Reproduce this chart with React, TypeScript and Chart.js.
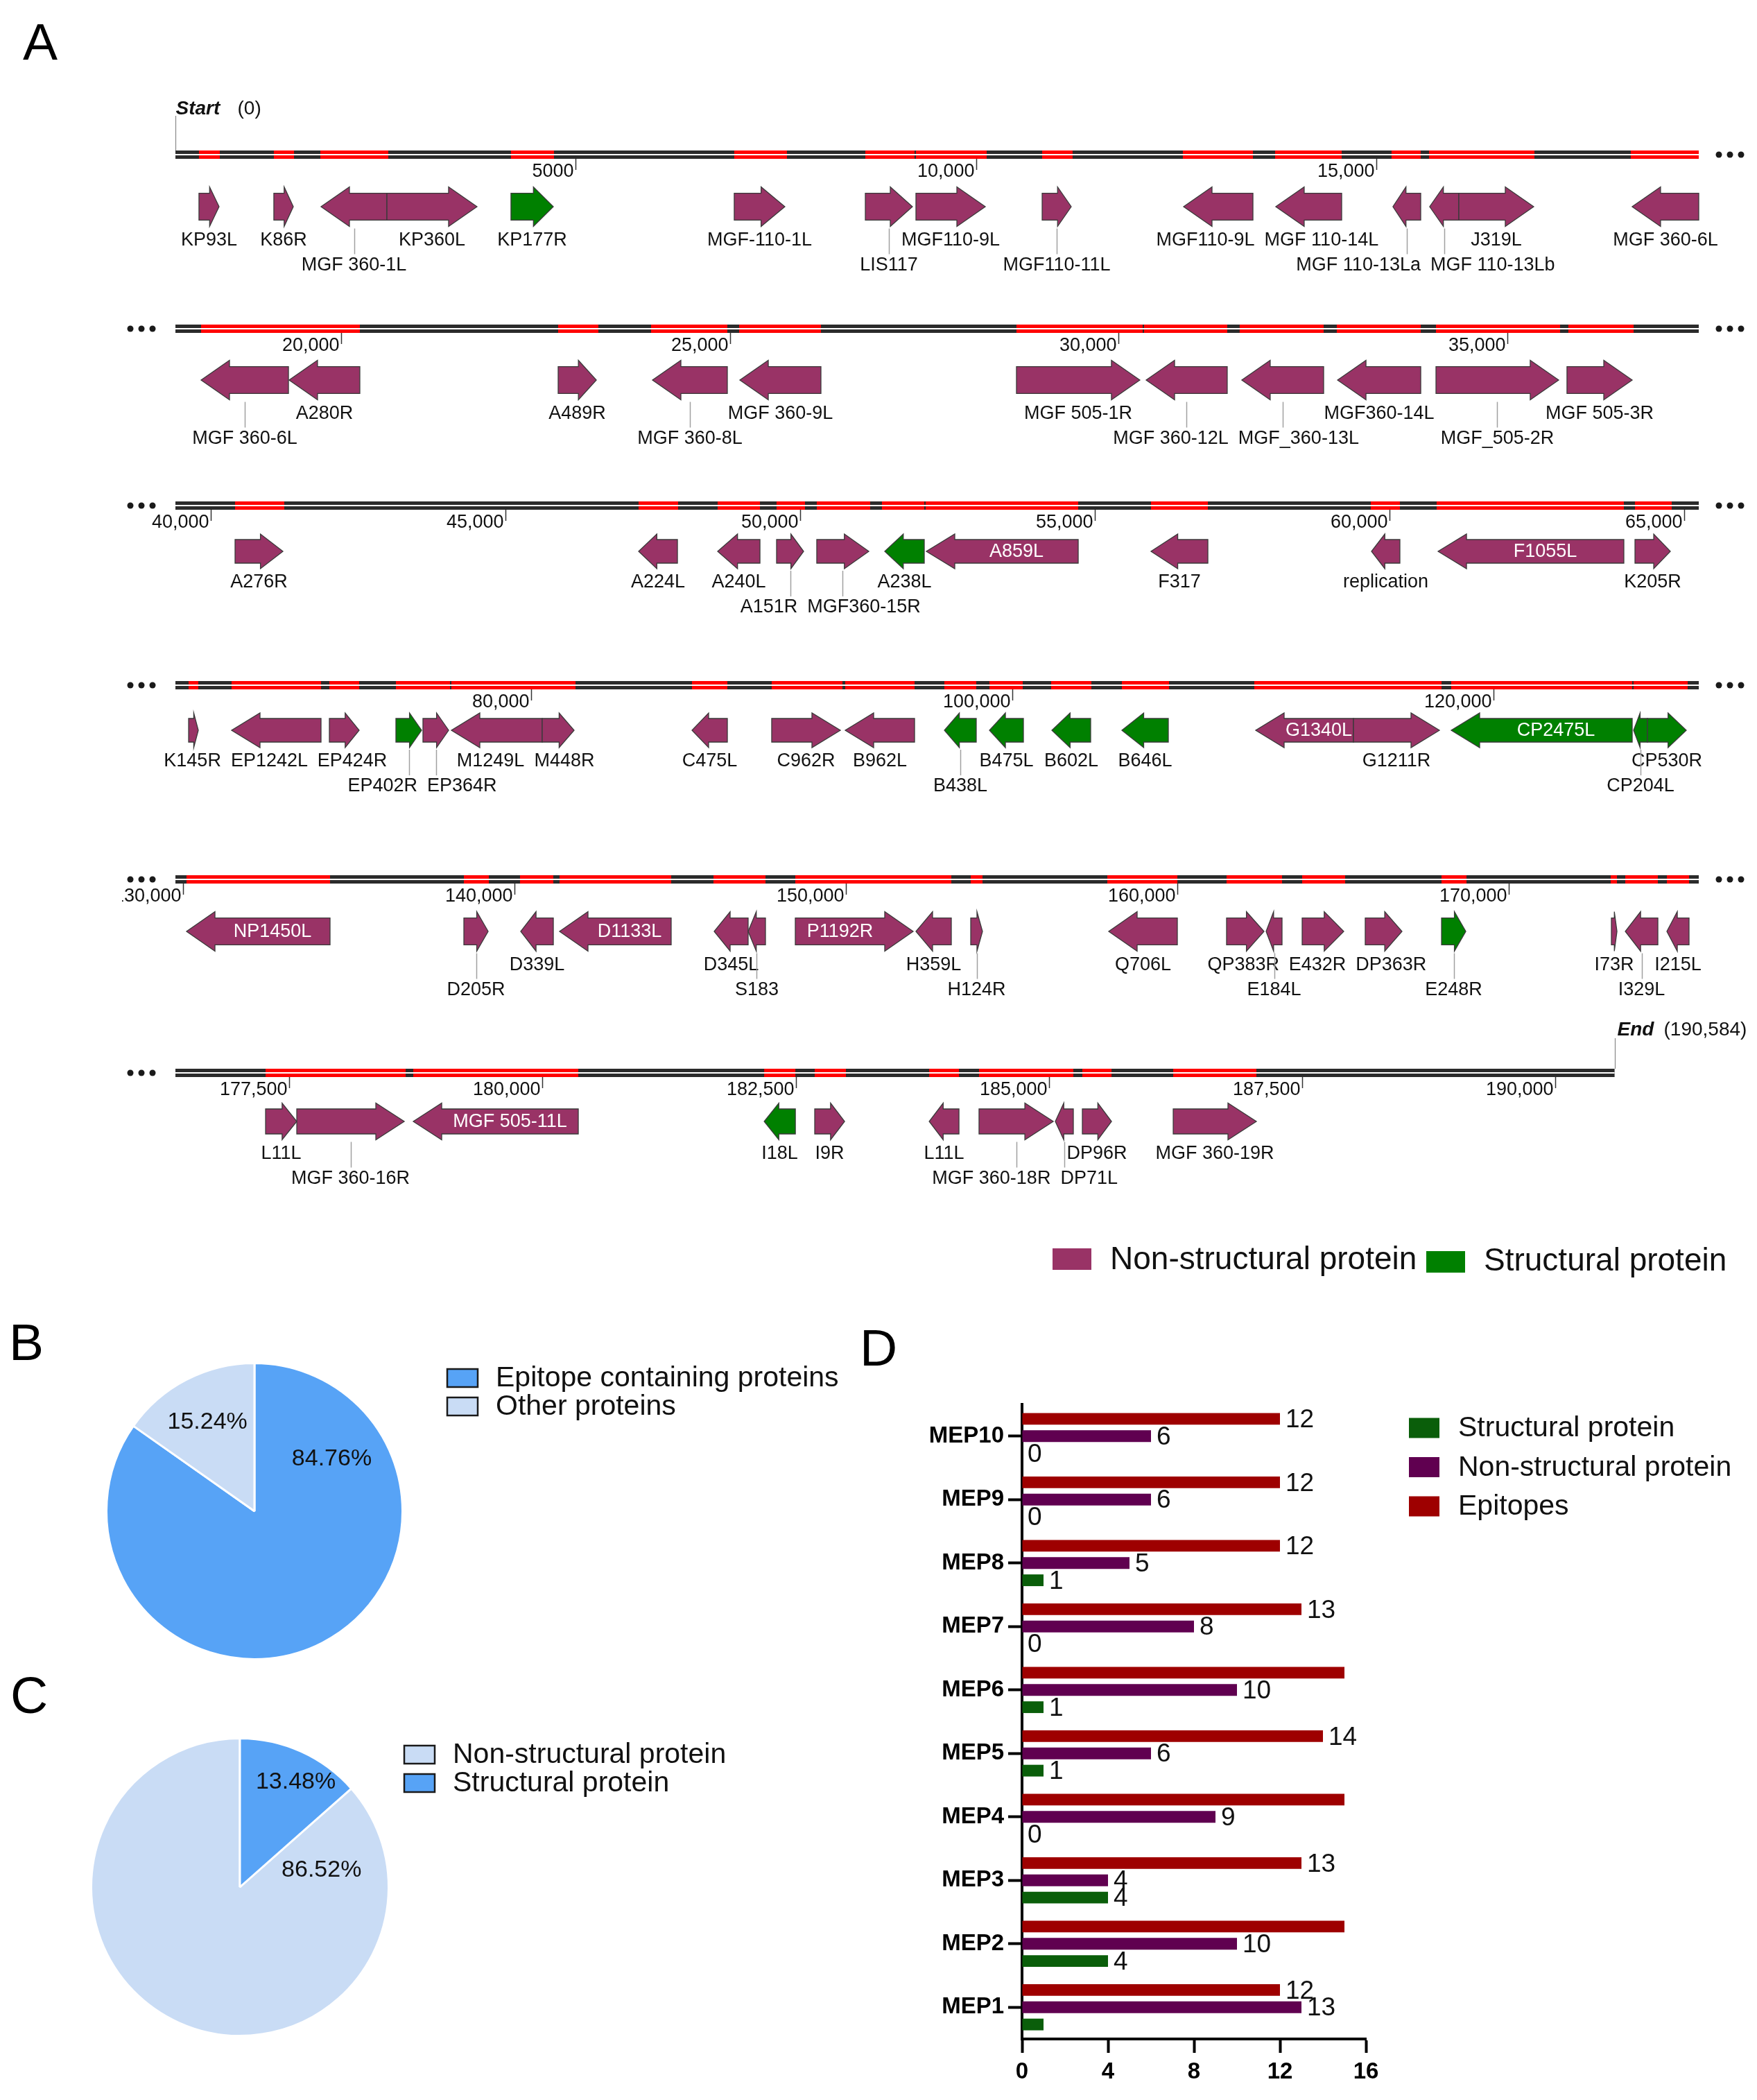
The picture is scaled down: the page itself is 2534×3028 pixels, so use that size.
import React, { useEffect, useRef } from "react";
import { Chart, registerables } from "chart.js";

Chart.register(...registerables);

const FONT = "'Liberation Sans', Arial, Helvetica, sans-serif";

// ================= Panel A : genome map data =================
const genomeLength = 190584;

const row1Range = [0, 19022];
const row2Range = [17869, 37463];
const row3Range = [39400, 65247];
const row4Range = [65216, 128530];
const row5Range = [129770, 175732];
const row6Range = [176377, 191415];

const row1TickValues = [5000, 10000, 15000];
const row1TickLabels = ["5000", "10,000", "15,000"];
const row2TickValues = [20000, 25000, 30000, 35000];
const row2TickLabels = ["20,000", "25,000", "30,000", "35,000"];
const row3TickValues = [40000, 45000, 50000, 55000, 60000, 65000];
const row3TickLabels = ["40,000", "45,000", "50,000", "55,000", "60,000", "65,000"];
const row4TickValues = [80000, 100000, 120000];
const row4TickLabels = ["80,000", "100,000", "120,000"];
const row5TickValues = [130000, 140000, 150000, 160000, 170000];
const row5TickLabels = ["130,000", "140,000", "150,000", "160,000", "170,000"];
const row6TickValues = [177500, 180000, 182500, 185000, 187500, 190000];
const row6TickLabels = ["177,500", "180,000", "182,500", "185,000", "187,500", "190,000"];

// gene: [name, start, end, strand (1 = forward, -1 = reverse), type (N = non-structural, S = structural), label lane (0 inside, 1 first line, 2 second line)]
const row1Genes: any[] = [
  ["KP93L", 294, 545, 1, "N", 1],
  ["K86R", 1229, 1472, 1, "N", 1],
  ["MGF 360-1L", 1818, 2641, -1, "N", 2],
  ["KP360L", 2641, 3766, 1, "N", 1],
  ["KP177R", 4190, 4719, 1, "S", 1],
  ["MGF-110-1L", 6978, 7610, 1, "N", 1],
  ["LIS117", 8615, 9203, 1, "N", 2],
  ["MGF110-9L", 9247, 10113, 1, "N", 1],
  ["MGF110-11L", 10823, 11186, 1, "N", 2],
  ["MGF110-9L", 12589, 13455, -1, "N", 1],
  ["MGF 110-14L", 13740, 14563, -1, "N", 1],
  ["MGF 110-13La", 15203, 15550, -1, "N", 2],
  ["MGF 110-13Lb", 15662, 16026, -1, "N", 2],
  ["J319L", 16026, 16961, 1, "N", 1],
  ["MGF 360-6L", 18190, 19323, -1, "N", 1],
];
const row2Genes: any[] = [
  ["MGF 360-6L", 18199, 19323, -1, "N", 2],
  ["A280R", 19331, 20241, -1, "N", 1],
  ["A489R", 22792, 23283, 1, "N", 1],
  ["MGF 360-8L", 24005, 24968, -1, "N", 2],
  ["MGF 360-9L", 25129, 26172, -1, "N", 1],
  ["MGF 505-1R", 28687, 30274, 1, "N", 1],
  ["MGF 360-12L", 30355, 31398, -1, "N", 2],
  ["MGF_360-13L", 31585, 32638, -1, "N", 2],
  ["MGF360-14L", 32817, 33887, -1, "N", 1],
  ["MGF_505-2R", 34083, 35661, 1, "N", 2],
  ["MGF 505-3R", 35768, 36607, 1, "N", 1],
];
const row3Genes: any[] = [
  ["A276R", 40412, 41224, 1, "N", 1],
  ["A224L", 47259, 47918, -1, "N", 1],
  ["A240L", 48600, 49318, -1, "N", 1],
  ["A151R", 49600, 50059, 1, "N", 2],
  ["MGF360-15R", 50282, 51165, 1, "N", 2],
  ["A238L", 51435, 52106, -1, "S", 1],
  ["A859L", 52141, 54718, -1, "N", 0],
  ["F317", 55953, 56918, -1, "N", 1],
  ["replication", 59694, 60176, -1, "N", 1],
  ["F1055L", 60824, 63976, -1, "N", 0],
  ["K205R", 64165, 64765, 1, "N", 1],
];
const row4Genes: any[] = [
  ["K145R", 65764, 66167, 1, "N", 1],
  ["EP1242L", 67550, 71268, -1, "N", 1],
  ["EP424R", 71614, 72853, 1, "N", 1],
  ["EP402R", 74380, 75447, 1, "S", 2],
  ["EP364R", 75504, 76571, 1, "N", 2],
  ["M1249L", 76686, 80461, -1, "N", 1],
  ["M448R", 80461, 81787, 1, "N", 1],
  ["C475L", 86686, 88156, -1, "N", 1],
  ["C962R", 89999, 92853, 1, "N", 1],
  ["B962L", 93055, 95937, -1, "N", 1],
  ["B438L", 97176, 98501, -1, "S", 2],
  ["B475L", 99049, 100461, -1, "S", 1],
  ["B602L", 101643, 103256, -1, "S", 1],
  ["B646L", 104553, 106484, -1, "S", 1],
  ["G1340L", 110115, 114179, -1, "N", 0],
  ["G1211R", 114179, 117752, 1, "N", 1],
  ["CP2475L", 118242, 125764, -1, "S", 0],
  ["CP204L", 125821, 126398, -1, "S", 2],
  ["CP530R", 126398, 128012, 1, "S", 1],
];
const row5Genes: any[] = [
  ["NP1450L", 130105, 134435, -1, "N", 0],
  ["D205R", 138473, 139205, 1, "N", 2],
  ["D339L", 140188, 141172, -1, "N", 1],
  ["D1133L", 141360, 144728, -1, "N", 0],
  ["D345L", 146025, 147050, -1, "N", 1],
  ["S183", 147050, 147573, -1, "N", 2],
  ["P1192R", 148473, 152029, 1, "N", 0],
  ["H359L", 152113, 153180, -1, "N", 1],
  ["H124R", 153766, 154121, 1, "N", 2],
  ["Q706L", 157929, 160000, -1, "N", 1],
  ["QP383R", 161485, 162615, 1, "N", 1],
  ["E184L", 162678, 163159, -1, "N", 2],
  ["E432R", 163766, 165021, 1, "N", 1],
  ["DP363R", 165669, 166778, 1, "N", 1],
  ["E248R", 167971, 168703, 1, "S", 2],
  ["I73R", 173096, 173264, 1, "N", 1],
  ["I329L", 173515, 174498, -1, "N", 2],
  ["I215L", 174770, 175439, -1, "N", 1],
];
const row6Genes: any[] = [
  ["L11L", 177267, 177575, 1, "N", 1],
  ["MGF 360-16R", 177575, 178636, 1, "N", 2],
  ["MGF 505-11L", 178725, 180354, -1, "N", 0],
  ["I18L", 182189, 182497, -1, "S", 1],
  ["I9R", 182688, 182983, 1, "N", 1],
  ["L11L", 183818, 184112, -1, "N", 1],
  ["MGF 360-18R", 184310, 185043, 1, "N", 2],
  ["DP71L", 185063, 185241, -1, "N", 2],
  ["DP96R", 185330, 185618, 1, "N", 1],
  ["MGF 360-19R", 186227, 187048, 1, "N", 1],
];

// highlighted (red) segments of the sequence track
const row1Red = [[294, 554], [1229, 1481], [1810, 2658], [4190, 4727], [6978, 7636], [8615, 9229], [9247, 10130], [10823, 11203], [12580, 13455], [13732, 14563], [15186, 15550], [15654, 16970], [18173, 19040]];
const row2Red = [[18199, 20241], [22792, 23309], [23987, 24968], [25120, 26172], [28687, 30310], [30328, 31398], [31558, 32638], [32807, 33887], [34083, 35679], [35786, 36625]];
const row3Red = [[40412, 41247], [47259, 47929], [48600, 49318], [49600, 50082], [50282, 51188], [51388, 52106], [52129, 54718], [55953, 56918], [59682, 60176], [60800, 63976], [64165, 64788]];
const row4Red = [[65764, 66167], [67550, 71268], [71614, 72853], [74380, 76628], [76686, 81844], [86686, 88156], [89999, 92939], [93055, 95937], [97176, 98501], [99049, 100432], [101614, 103285], [104553, 106513], [110058, 117839], [118242, 125764], [125821, 128069]];
const row5Red = [[130105, 134435], [138473, 139226], [140167, 141172], [141360, 144728], [146004, 147573], [148473, 153180], [153766, 154121], [157887, 160000], [161485, 163159], [163766, 165063], [167971, 168724], [173075, 173264], [173515, 174498], [174770, 175439]];
const row6Red = [[177267, 178650], [178725, 180354], [182189, 182497], [182688, 182996], [183818, 184112], [184310, 185241], [185330, 185618], [186227, 187048]];

const mapLegendLabels = ["Non-structural protein", "Structural protein"];

const GENOME_ROWS = [
  { range: row1Range, genes: row1Genes, red: row1Red, ticks: row1TickValues, tickLabels: row1TickLabels },
  { range: row2Range, genes: row2Genes, red: row2Red, ticks: row2TickValues, tickLabels: row2TickLabels },
  { range: row3Range, genes: row3Genes, red: row3Red, ticks: row3TickValues, tickLabels: row3TickLabels },
  { range: row4Range, genes: row4Genes, red: row4Red, ticks: row4TickValues, tickLabels: row4TickLabels },
  { range: row5Range, genes: row5Genes, red: row5Red, ticks: row5TickValues, tickLabels: row5TickLabels },
  { range: row6Range, genes: row6Genes, red: row6Red, ticks: row6TickValues, tickLabels: row6TickLabels },
];

// ================= Panel B / C : pies =================
const pieBLabels = ["Epitope containing proteins", "Other proteins"];
const pieBValues = [84.76, 15.24];
const pieCLabels = ["Non-structural protein", "Structural protein"];
const pieCValues = [86.52, 13.48];

// ================= Panel D : bars =================
const mepCategories = ["MEP10", "MEP9", "MEP8", "MEP7", "MEP6", "MEP5", "MEP4", "MEP3", "MEP2", "MEP1"];
const epitopeCounts = [12, 12, 12, 13, 15, 14, 15, 13, 15, 12];
const nonStructuralCounts = [6, 6, 5, 8, 10, 6, 9, 4, 10, 13];
const structuralCounts = [0, 0, 1, 0, 1, 1, 0, 4, 4, 1];
const epitopeValueLabels = ["12", "12", "12", "13", null, "14", null, "13", null, "12"];
const nonStructuralValueLabels = ["6", "6", "5", "8", "10", "6", "9", "4", "10", "13"];
const structuralValueLabels = ["0", "0", "1", "0", "1", "1", "0", "4", "4", null];
const xTickStep = 4;
const xMax = 16;

// ================= styles / layout =================
const NONSTRUCT_COLOR = "#993366";
const STRUCT_COLOR = "#008000";
const BLUE = "#57A3F6";
const LIGHT_BLUE = "#C9DCF5";
const EPI_RED = "#9E0000";
const NS_PURPLE = "#600050";
const S_GREEN = "#0A5E0A";

const TRACK_Y = [223, 474, 729, 988, 1268, 1547];
const ARROW_Y = [298, 548, 795, 1053, 1343, 1617];
const ARROW_H = [57, 57, 50, 50, 57, 53];

function spreadLabels(items: any[], gap: number, lo: number, hi: number) {
  items.sort((a, b) => a.x - b.x);
  for (let it = 0; it < 200; it++) {
    let moved = false;
    for (let i = 1; i < items.length; i++) {
      const a = items[i - 1];
      const b = items[i];
      const ov = a.x + a.w / 2 + gap - (b.x - b.w / 2);
      if (ov > 0.5) {
        a.x -= ov / 2;
        b.x += ov / 2;
        moved = true;
      }
    }
    for (const t of items) {
      if (t.x - t.w / 2 < lo) t.x = lo + t.w / 2;
      if (t.x + t.w / 2 > hi) t.x = hi - t.w / 2;
    }
    if (!moved) break;
  }
}

function arrowPath(ctx: any, x1: number, x2: number, cy: number, hb: number, hh: number, hl: number, strand: number) {
  ctx.beginPath();
  if (hl <= 0) {
    ctx.rect(x1, cy - hb, x2 - x1, hb * 2);
    return;
  }
  if (strand === 1) {
    const xh = x2 - hl;
    ctx.moveTo(x1, cy - hb);
    ctx.lineTo(xh, cy - hb);
    ctx.lineTo(xh, cy - hh);
    ctx.lineTo(x2, cy);
    ctx.lineTo(xh, cy + hh);
    ctx.lineTo(xh, cy + hb);
    ctx.lineTo(x1, cy + hb);
  } else {
    const xh = x1 + hl;
    ctx.moveTo(x2, cy - hb);
    ctx.lineTo(xh, cy - hb);
    ctx.lineTo(xh, cy - hh);
    ctx.lineTo(x1, cy);
    ctx.lineTo(xh, cy + hh);
    ctx.lineTo(xh, cy + hb);
    ctx.lineTo(x2, cy + hb);
  }
  ctx.closePath();
}

function drawGenomeRow(ctx: any, sc: any, row: any, i: number, width: number) {
  const c = TRACK_Y[i];
  const ay = ARROW_Y[i];
  const H = ARROW_H[i];
  const [rmin, rmax] = row.range;
  const tStart = Math.max(rmin, 0);
  const tEnd = Math.min(rmax, genomeLength);
  const X = (v: number) => sc.getPixelForValue(v);
  const xs = X(tStart);
  const xe = X(tEnd);

  // track
  ctx.fillStyle = "#2b2b2b";
  ctx.fillRect(xs, c - 6, xe - xs, 12);
  ctx.fillStyle = "#ff0000";
  row.red.forEach(([a, b]: number[]) => {
    const x1 = X(Math.max(a, tStart));
    const x2 = X(Math.min(b, tEnd));
    if (x2 > x1) ctx.fillRect(x1, c - 6, x2 - x1, 12);
  });
  ctx.fillStyle = "#ffffff";
  ctx.fillRect(xs, c - 1, xe - xs, 2);

  // ticks
  ctx.strokeStyle = "#333";
  ctx.lineWidth = 1.5;
  ctx.fillStyle = "#111";
  ctx.font = `27px ${FONT}`;
  ctx.textAlign = "right";
  ctx.textBaseline = "middle";
  row.ticks.forEach((v: number, k: number) => {
    if (v < rmin || v > rmax) return;
    const x = Math.round(X(v)) + 0.5;
    ctx.beginPath();
    ctx.moveTo(x, c + 6);
    ctx.lineTo(x, c + 22);
    ctx.stroke();
    ctx.fillText(row.tickLabels[k], x - 3, c + 25);
  });

  // continuation dots
  ctx.fillStyle = "#1a1a1a";
  if (i > 0) {
    ctx.save();
    ctx.fillStyle = "#ffffff";
    ctx.fillRect(0, c - 20, 176, 60);
    ctx.restore();
    [xs - 65, xs - 49, xs - 33].forEach((dx) => {
      ctx.beginPath();
      ctx.arc(dx, c, 4.5, 0, Math.PI * 2);
      ctx.fill();
    });
  }
  if (i < GENOME_ROWS.length - 1) {
    [xe + 29, xe + 45, xe + 61].forEach((dx) => {
      ctx.beginPath();
      ctx.arc(dx, c, 4.5, 0, Math.PI * 2);
      ctx.fill();
    });
  }

  // genes
  const hb = H * 0.34;
  const hh = H / 2;
  const lane1Y = ay + hh + 20;
  const lane2Y = lane1Y + 36;
  ctx.font = `27px ${FONT}`;
  const lanes: any = { 1: [], 2: [] };
  const inside: any[] = [];
  row.genes.forEach((g: any[]) => {
    const [name, s, e, strand, type, lane] = g;
    const a = Math.max(s, rmin);
    const b = Math.min(e, rmax);
    if (b <= a) return;
    const x1 = X(a);
    const x2 = X(b);
    const w = x2 - x1;
    const headVisible = strand === 1 ? e <= rmax : s >= rmin;
    const hl = headVisible ? Math.min(41, w * 0.47) : 0;
    arrowPath(ctx, x1, x2, ay, hb, hh, hl, strand);
    ctx.fillStyle = type === "S" ? STRUCT_COLOR : NONSTRUCT_COLOR;
    ctx.fill();
    ctx.strokeStyle = "#3a3a3a";
    ctx.lineWidth = 1.3;
    ctx.stroke();
    const tw = ctx.measureText(name).width;
    if (lane === 0) {
      const bx = strand === 1 ? (x1 + x2 - hl) / 2 : (x1 + hl + x2) / 2;
      inside.push({ name, x: bx, y: ay });
    } else {
      lanes[lane].push({ name, x: (x1 + x2) / 2, gx: (x1 + x2) / 2, w: tw });
    }
  });

  // inside labels
  ctx.fillStyle = "#ffffff";
  ctx.textAlign = "center";
  ctx.textBaseline = "middle";
  inside.forEach((t) => ctx.fillText(t.name, t.x, t.y + 1));

  // outside labels
  [1, 2].forEach((ln) => {
    const items = lanes[ln];
    spreadLabels(items, 14, 4, width - 4);
    items.forEach((t: any) => {
      const y = ln === 1 ? lane1Y : lane2Y;
      if (ln === 2) {
        ctx.strokeStyle = "#a0a0a0";
        ctx.lineWidth = 1.5;
        ctx.beginPath();
        ctx.moveTo(Math.round(t.gx) + 0.5, ay + hh + 3);
        ctx.lineTo(Math.round(t.gx) + 0.5, y - 16);
        ctx.stroke();
      }
      ctx.fillStyle = "#111";
      ctx.fillText(t.name, t.x, y);
    });
  });
}

const genomePlugin = {
  id: "genomeMap",
  afterDraw(chart: any) {
    const ctx = chart.ctx;
    ctx.save();
    GENOME_ROWS.forEach((row, i) => drawGenomeRow(ctx, chart.scales["x" + i], row, i, chart.width));

    // Start marker
    const sx = Math.round(chart.scales.x0.getPixelForValue(0)) + 0.5;
    ctx.strokeStyle = "#888";
    ctx.lineWidth = 1.2;
    ctx.beginPath();
    ctx.moveTo(sx, 167);
    ctx.lineTo(sx, TRACK_Y[0] - 6);
    ctx.stroke();
    ctx.fillStyle = "#111";
    ctx.textAlign = "left";
    ctx.textBaseline = "alphabetic";
    ctx.font = `italic bold 28px ${FONT}`;
    ctx.fillText("Start", sx, 165);
    ctx.font = `28px ${FONT}`;
    ctx.fillText("(0)", sx + 89, 165);

    // End marker
    const ex = Math.round(chart.scales.x5.getPixelForValue(genomeLength)) + 0.5;
    ctx.beginPath();
    ctx.moveTo(ex, 1497);
    ctx.lineTo(ex, TRACK_Y[5] - 6);
    ctx.stroke();
    ctx.font = `italic bold 28px ${FONT}`;
    ctx.fillText("End", ex + 3, 1493);
    ctx.font = `28px ${FONT}`;
    ctx.fillText("(" + genomeLength.toLocaleString("en-US") + ")", ex + 70, 1493);

    // legend
    const legendColors = [NONSTRUCT_COLOR, STRUCT_COLOR];
    const boxX = [1518, 2057];
    const textX = [1601, 2140];
    ctx.font = `46px ${FONT}`;
    ctx.textBaseline = "middle";
    mapLegendLabels.forEach((lab, k) => {
      ctx.fillStyle = legendColors[k];
      ctx.fillRect(boxX[k], 1800 + k * 4, 56, 31);
      ctx.fillStyle = "#111";
      ctx.fillText(lab, textX[k], 1817 + k * 2);
    });
    ctx.restore();
  },
};

// ================= pies =================
// label placement: angular offset from each slice's start (degrees) and distance as a fraction of radius
function piePercentPlugin(offsetsDeg: number[], dists: number[]) {
  return {
    id: "piePercent",
    afterDatasetsDraw(chart: any) {
      const ctx = chart.ctx;
      const meta = chart.getDatasetMeta(0);
      const ds = chart.data.datasets[0];
      ctx.save();
      ctx.font = `34px ${FONT}`;
      ctx.fillStyle = "#111";
      ctx.textAlign = "center";
      ctx.textBaseline = "middle";
      meta.data.forEach((arc: any, i: number) => {
        const p = arc.getProps(["x", "y", "startAngle", "endAngle", "outerRadius"], true);
        const ang = p.startAngle + (offsetsDeg[i] * Math.PI) / 180;
        const d = dists[i] * p.outerRadius;
        ctx.fillText(ds.data[i].toFixed(2) + "%", p.x + d * Math.cos(ang), p.y + d * Math.sin(ang));
      });
      ctx.restore();
    },
  };
}

function pieLegendPlugin(boxX: number, firstY: number, step: number, textX: number) {
  return {
    id: "pieLegend",
    afterDraw(chart: any) {
      const ctx = chart.ctx;
      const ds = chart.data.datasets[0];
      ctx.save();
      chart.data.labels.forEach((lab: string, i: number) => {
        const cy = firstY + i * step;
        ctx.fillStyle = ds.backgroundColor[i];
        ctx.fillRect(boxX, cy - 13, 44, 26);
        ctx.lineWidth = 2.5;
        ctx.strokeStyle = "#1a1a1a";
        ctx.strokeRect(boxX, cy - 13, 44, 26);
        ctx.fillStyle = "#111";
        ctx.font = `41px ${FONT}`;
        ctx.textAlign = "left";
        ctx.textBaseline = "middle";
        ctx.fillText(lab, textX, cy + 1);
      });
      ctx.restore();
    },
  };
}

function makePie(canvas: any, labels: string[], values: number[], colors: string[], rotation: number, padding: any, legend: any, pct: any) {
  return new Chart(canvas, {
    type: "pie",
    data: {
      labels,
      datasets: [{ data: values, backgroundColor: colors, borderColor: "#ffffff", borderWidth: 3 }],
    },
    options: {
      responsive: false,
      animation: false,
      devicePixelRatio: 1,
      rotation,
      events: [],
      layout: { padding },
      plugins: { legend: { display: false }, tooltip: { enabled: false } },
    } as any,
    plugins: [pct, legend],
  });
}

// ================= bar chart D =================
const valueLabelPlugin = {
  id: "valueLabels",
  afterDatasetsDraw(chart: any) {
    const ctx = chart.ctx;
    const sets = [epitopeValueLabels, nonStructuralValueLabels, structuralValueLabels];
    ctx.save();
    ctx.font = `37px ${FONT}`;
    ctx.fillStyle = "#111";
    ctx.textAlign = "left";
    ctx.textBaseline = "middle";
    chart.data.datasets.forEach((ds: any, di: number) => {
      chart.getDatasetMeta(di).data.forEach((bar: any, i: number) => {
        const t = sets[di][i];
        if (t == null) return;
        ctx.fillText(t, bar.x + 8, bar.y + 2);
      });
    });
    ctx.restore();
  },
};

const barLegendPlugin = {
  id: "barLegend",
  afterDraw(chart: any) {
    const ctx = chart.ctx;
    const dss = chart.data.datasets.slice().reverse();
    ctx.save();
    ctx.font = `41px ${FONT}`;
    ctx.textAlign = "left";
    ctx.textBaseline = "middle";
    dss.forEach((ds: any, k: number) => {
      const cy = 169 + k * 56.5;
      ctx.fillStyle = ds.backgroundColor;
      ctx.fillRect(792, cy - 14.5, 44, 29);
      ctx.fillStyle = "#111";
      ctx.fillText(ds.label, 863, cy + 1);
    });
    ctx.restore();
  },
};

function makeBars(canvas: any) {
  const boldTick = { family: FONT, size: 33, weight: "bold" };
  return new Chart(canvas, {
    type: "bar",
    data: {
      labels: mepCategories,
      datasets: [
        { label: "Epitopes", data: epitopeCounts, backgroundColor: EPI_RED, categoryPercentage: 0.815, barPercentage: 0.68 },
        { label: "Non-structural protein", data: nonStructuralCounts, backgroundColor: NS_PURPLE, categoryPercentage: 0.815, barPercentage: 0.68 },
        { label: "Structural protein", data: structuralCounts, backgroundColor: S_GREEN, categoryPercentage: 0.815, barPercentage: 0.68 },
      ],
    },
    options: {
      indexAxis: "y",
      responsive: false,
      animation: false,
      devicePixelRatio: 1,
      events: [],
      layout: { padding: { left: 0, top: 135, right: 564, bottom: 0 } },
      scales: {
        x: {
          min: 0,
          max: xMax,
          ticks: { stepSize: xTickStep, font: boldTick, color: "#000", padding: 8 },
          grid: { display: true, drawOnChartArea: false, drawTicks: true, tickLength: 20, tickWidth: 4, tickColor: "#000" },
          border: { display: true, width: 4, color: "#000" },
          afterFit: (s: any) => {
            s.height = 88;
          },
        },
        y: {
          ticks: { font: boldTick, color: "#000", padding: 6 },
          grid: { display: true, offset: false, drawOnChartArea: false, drawTicks: true, tickLength: 20, tickWidth: 4, tickColor: "#000" },
          border: { display: true, width: 4, color: "#000" },
          afterFit: (s: any) => {
            s.width = 234;
          },
        },
      },
      plugins: { legend: { display: false }, tooltip: { enabled: false } },
    } as any,
    plugins: [valueLabelPlugin, barLegendPlugin],
  });
}

// ================= components =================
function ChartCanvas({ left, top, width, height, make }: any) {
  const ref = useRef<HTMLCanvasElement>(null);
  useEffect(() => {
    const chart = make(ref.current);
    return () => chart.destroy();
  }, []);
  return <canvas ref={ref} width={width} height={height} style={{ position: "absolute", left, top, width, height }} />;
}

function makeGenome(canvas: any) {
  const scales: any = {};
  GENOME_ROWS.forEach((r, i) => {
    scales["x" + i] = { type: "linear", axis: "x", position: "bottom", min: r.range[0], max: r.range[1], display: false };
  });
  scales.y = { type: "linear", display: false, min: 0, max: 1 };
  return new Chart(canvas, {
    type: "scatter",
    data: { datasets: [] },
    options: {
      responsive: false,
      animation: false,
      devicePixelRatio: 1,
      events: [],
      layout: { padding: { left: 253, right: 84, top: 0, bottom: 0 } },
      plugins: { legend: { display: false }, tooltip: { enabled: false } },
      scales,
    } as any,
    plugins: [genomePlugin],
  });
}

function PanelLetter({ text, left, top }: any) {
  return (
    <div style={{ position: "absolute", left, top, fontFamily: FONT, fontSize: 75, lineHeight: "75px", color: "#000" }}>{text}</div>
  );
}

export default function App() {
  const sumC = pieCValues.reduce((a, b) => a + b, 0);
  return (
    <div style={{ position: "absolute", left: 0, top: 0, width: 2534, height: 3028, background: "#fff", overflow: "hidden" }}>
      <ChartCanvas left={0} top={0} width={2534} height={1860} make={makeGenome} />
      <ChartCanvas
        left={0}
        top={1880}
        width={1260}
        height={520}
        make={(cv: any) =>
          makePie(
            cv,
            pieBLabels,
            pieBValues,
            [BLUE, LIGHT_BLUE],
            0,
            { left: 152, top: 84, right: 678, bottom: 6 },
            pieLegendPlugin(645, 107, 41, 715),
            piePercentPlugin([56, 27], [0.63, 0.68])
          )
        }
      />
      <ChartCanvas
        left={0}
        top={2400}
        width={1260}
        height={628}
        make={(cv: any) =>
          makePie(
            cv,
            pieCLabels,
            pieCValues,
            [LIGHT_BLUE, BLUE],
            (pieCValues[1] / sumC) * 360,
            { left: 130, top: 105, right: 698, bottom: 91 },
            pieLegendPlugin(583, 130, 41, 653),
            piePercentPlugin([30, 28], [0.56, 0.8])
          )
        }
      />
      <ChartCanvas left={1240} top={1890} width={1294} height={1138} make={makeBars} />
      <PanelLetter text="A" left={33} top={23} />
      <PanelLetter text="B" left={13} top={1898} />
      <PanelLetter text="C" left={15} top={2407} />
      <PanelLetter text="D" left={1240} top={1906} />
    </div>
  );
}
